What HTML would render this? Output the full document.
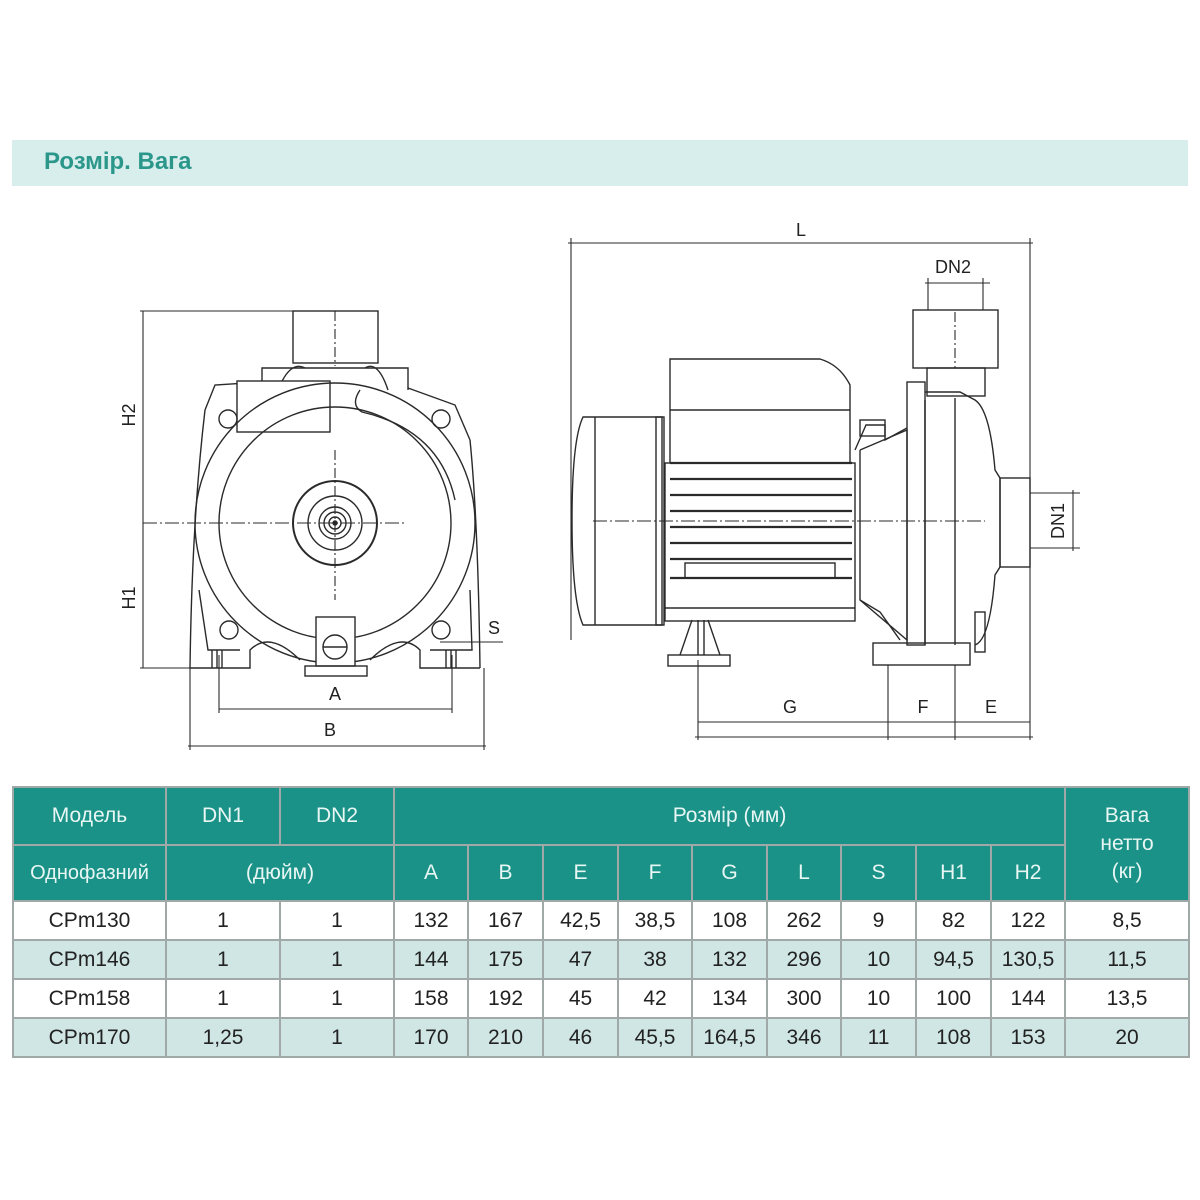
<!DOCTYPE html>
<html><head><meta charset="utf-8"><style>
body{margin:0;background:#fff;width:1200px;height:1200px;position:relative;overflow:hidden;font-family:"Liberation Sans","DejaVu Sans",sans-serif}
.title{position:absolute;left:12px;top:140px;width:1176px;height:46px;background:#d8eeed}
.title span{position:absolute;left:32px;top:8px;font-size:24px;font-weight:bold;color:#2b978b}
table{position:absolute;left:12px;top:786px;border-collapse:collapse;table-layout:fixed;width:1176px}
td{border:2px solid #a0a8a8;text-align:center;font-size:21px;color:#222;padding:0;height:37px}
.h td{background:#1a9287;color:#e8f6f4;font-size:21px;height:auto}
tr.a td{background:#cfe6e4}
svg{position:absolute;left:0;top:0}
</style></head><body>
<div class="title"><span>Розмір. Вага</span></div>
<svg width="1200" height="780" viewBox="0 0 1200 780" fill="none" stroke="#2a2a2a" stroke-width="1.4" font-family="Liberation Sans, sans-serif">
<g>
<rect x="293" y="311" width="85" height="52"/>
<path d="M262 390 V368 H408 V390"/>
<path d="M278 390 Q290 360 305 368 M388 390 Q378 360 365 368"/>
<path d="M205 410 L215 385 L262 382 M408 388 L455 405 L470 440"/>
<path d="M205 410 Q192 520 190 668 H250 V650 Q270 630 300 660 M480 668 H420 V650 Q400 630 370 660 M470 440 Q478 520 480 668"/>
<rect x="237" y="381" width="93" height="51" fill="#fff"/>
<path d="M360 390 Q350 405 362 412 Q440 430 455 500"/>
<circle cx="335" cy="523" r="140" fill="none"/>
<circle cx="335" cy="523" r="116"/>
<circle cx="335" cy="523" r="42" stroke-width="2"/>
<circle cx="335" cy="523" r="27"/>
<circle cx="335" cy="523" r="16"/><circle cx="335" cy="523" r="11"/><circle cx="335" cy="523" r="6"/><circle cx="335" cy="523" r="2" fill="#222"/>
<circle cx="228" cy="419" r="9"/><circle cx="441" cy="419" r="9"/>
<circle cx="229" cy="630" r="9"/><circle cx="441" cy="630" r="9"/>
<path d="M199 590 L208 650 H240 M470 590 L472 650 H430"/>
<rect x="316" y="617" width="39" height="49" fill="#fff"/>
<circle cx="335" cy="647" r="12"/><line x1="323" y1="647" x2="347" y2="647"/>
<rect x="305" y="666" width="62" height="10"/>
<path d="M212 650 V668 M217 650 V668 M222 650 V668 M446 650 V668 M451 650 V668 M456 650 V668"/>
<g stroke-width="1.1">
<line x1="335" y1="311" x2="335" y2="366" stroke-dasharray="10 3 2 3"/>
<line x1="335" y1="450" x2="335" y2="600" stroke-dasharray="10 3 2 3"/>
<line x1="143" y1="523" x2="405" y2="523" stroke-dasharray="14 3 2 3"/>
<line x1="143" y1="311" x2="143" y2="668"/>
<line x1="140" y1="311" x2="293" y2="311"/>
<line x1="140" y1="668" x2="190" y2="668"/>
<line x1="219" y1="655" x2="219" y2="713"/><line x1="452" y1="655" x2="452" y2="713"/>
<line x1="219" y1="709" x2="452" y2="709"/>
<line x1="190" y1="668" x2="190" y2="750"/><line x1="484" y1="668" x2="484" y2="750"/>
<line x1="188" y1="746" x2="486" y2="746"/>
<line x1="440" y1="642" x2="503" y2="642"/>
</g>
</g>
<g fill="#222" stroke="none" font-size="18">
<text x="335" y="700" text-anchor="middle">A</text>
<text x="330" y="736" text-anchor="middle">B</text>
<text x="488" y="634">S</text>
<text transform="translate(135,415) rotate(-90)" text-anchor="middle">H2</text>
<text transform="translate(135,598) rotate(-90)" text-anchor="middle">H1</text>
</g>
<g>
<path d="M583 417 H662 V625 H583 Q572 600 572 520 Q572 440 583 417 Z"/>
<line x1="595" y1="417" x2="595" y2="625"/>
<rect x="656" y="417" width="8" height="208"/>
<path d="M670 463 V359 H820 Q840 365 850 385 V463"/>
<line x1="670" y1="410" x2="850" y2="410"/>
<rect x="665" y="463" width="190" height="158"/>
<g stroke-width="2.2"><line x1="670" y1="463" x2="852" y2="463"/><line x1="670" y1="479" x2="852" y2="479"/><line x1="670" y1="495" x2="852" y2="495"/><line x1="670" y1="511" x2="852" y2="511"/><line x1="670" y1="527" x2="852" y2="527"/><line x1="670" y1="543" x2="852" y2="543"/><line x1="670" y1="559" x2="852" y2="559"/><line x1="670" y1="578" x2="852" y2="578"/></g>
<rect x="685" y="563" width="150" height="15"/>
<line x1="665" y1="608" x2="855" y2="608"/>
<path d="M692 620 L680 655 M708 620 L720 655 M698 620 V655 M704 620 V655"/>
<rect x="668" y="655" width="62" height="11"/>
<path d="M855 450 L866 425 H885 V440 L907 428 M860 450 V600 L880 612 L900 640"/>
<rect x="860" y="420" width="25" height="16"/>
<path d="M860 450 L907 430 V640 L860 600"/>
<rect x="907" y="382" width="18" height="263"/>
<path d="M925 392 H960 L975 400 Q990 410 995 470 L1000 478 V567 L995 575 Q990 640 975 645"/>
<path d="M925 400 V645 M955 398 V645"/>
<rect x="1000" y="478" width="30" height="89"/>
<rect x="873" y="643" width="97" height="22"/>
<rect x="927" y="368" width="58" height="28"/>
<rect x="913" y="310" width="85" height="58"/>
<rect x="975" y="612" width="10" height="40"/>
<g stroke-width="1.1">
<line x1="593" y1="521" x2="985" y2="521" stroke-dasharray="14 3 2 3"/>
<line x1="955" y1="312" x2="955" y2="368" stroke-dasharray="10 3 2 3"/>
<line x1="568" y1="243" x2="1033" y2="243"/>
<line x1="571" y1="238" x2="571" y2="640"/><line x1="1030" y1="238" x2="1030" y2="740"/>
<line x1="925" y1="283" x2="990" y2="283"/>
<line x1="928" y1="278" x2="928" y2="310"/><line x1="983" y1="278" x2="983" y2="310"/>
<line x1="1030" y1="493" x2="1080" y2="493"/><line x1="1030" y1="548" x2="1080" y2="548"/>
<line x1="1073" y1="490" x2="1073" y2="551"/>
<line x1="698" y1="660" x2="698" y2="740"/>
<line x1="888" y1="665" x2="888" y2="740"/><line x1="955" y1="665" x2="955" y2="740"/>
<line x1="698" y1="722" x2="1030" y2="722"/>
<line x1="695" y1="737" x2="1033" y2="737"/>
</g>
</g>
<g fill="#222" stroke="none" font-size="18">
<text x="801" y="236" text-anchor="middle">L</text>
<text x="953" y="273" text-anchor="middle">DN2</text>
<text transform="translate(1064,521) rotate(-90)" text-anchor="middle">DN1</text>
<text x="790" y="713" text-anchor="middle">G</text>
<text x="923" y="713" text-anchor="middle">F</text>
<text x="991" y="713" text-anchor="middle">E</text>
</g>
</svg>
<table>
<colgroup><col style="width:153px"><col style="width:114px"><col style="width:114px"><col style="width:74px"><col style="width:75px"><col style="width:75px"><col style="width:74px"><col style="width:75px"><col style="width:74px"><col style="width:75px"><col style="width:75px"><col style="width:74px"><col style="width:124px"></colgroup>
<tr class="h" style="height:58px"><td>Модель</td><td>DN1</td><td>DN2</td><td colspan="9">Розмір (мм)</td><td rowspan="2" style="line-height:28px">Вага<br>нетто<br>(кг)</td></tr>
<tr class="h" style="height:56px"><td style="font-size:20px">Однофазний</td><td colspan="2">(дюйм)</td><td>A</td><td>B</td><td>E</td><td>F</td><td>G</td><td>L</td><td>S</td><td>H1</td><td>H2</td></tr>
<tr><td>CPm130</td><td>1</td><td>1</td><td>132</td><td>167</td><td>42,5</td><td>38,5</td><td>108</td><td>262</td><td>9</td><td>82</td><td>122</td><td>8,5</td></tr>
<tr class="a"><td>CPm146</td><td>1</td><td>1</td><td>144</td><td>175</td><td>47</td><td>38</td><td>132</td><td>296</td><td>10</td><td>94,5</td><td>130,5</td><td>11,5</td></tr>
<tr><td>CPm158</td><td>1</td><td>1</td><td>158</td><td>192</td><td>45</td><td>42</td><td>134</td><td>300</td><td>10</td><td>100</td><td>144</td><td>13,5</td></tr>
<tr class="a"><td>CPm170</td><td>1,25</td><td>1</td><td>170</td><td>210</td><td>46</td><td>45,5</td><td>164,5</td><td>346</td><td>11</td><td>108</td><td>153</td><td>20</td></tr>
</table>
</body></html>
